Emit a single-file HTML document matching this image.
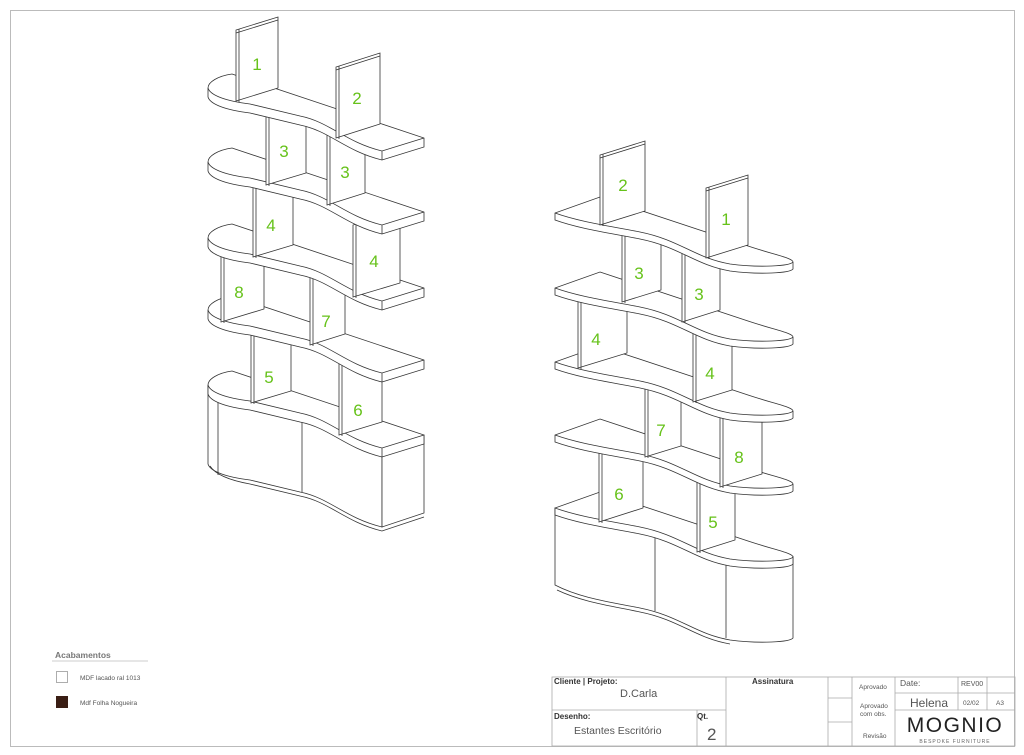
<!DOCTYPE html>
<html><head><meta charset="utf-8"><style>
html,body{margin:0;padding:0;background:#fff}
svg{display:block}
text{font-family:"Liberation Sans",sans-serif}
.n{fill:#66c21a;font-size:17px;text-anchor:middle}
</style></head><body>
<svg width="1024" height="755" viewBox="0 0 1024 755" xmlns="http://www.w3.org/2000/svg">
<defs>
<g id="shL">
<path fill="#fff" stroke="#333" stroke-width="0.8" d="M232,74 L424,138 L424,147 L382,160 C345,151 330,131 300,125 L250,113 C225,110 210,104 208,97 L208,88 C208,82 218,76 232,74 Z"/>
<path fill="none" stroke="#333" stroke-width="0.8" d="M208,88 C210,95 225,101 250,104 L300,116 C330,122 345,142 382,151 L424,138 M382,151 L382,160"/>
</g>
<g id="shR">
<path fill="#fff" stroke="#333" stroke-width="0.8" d="M600,197 L748,246 C775,255 793,258 793,262 L793,269 C790,273 760,275 730,271 C695,265 680,247 640,239 C610,233 580,229 555,220 L555,213 Z"/>
<path fill="none" stroke="#333" stroke-width="0.8" d="M555,213 C580,222 610,226 640,232 C680,240 695,258 730,264 C760,268 790,266 793,262"/>
</g>
</defs>
<rect x="10.5" y="10.5" width="1004" height="736" fill="none" stroke="#bbb" stroke-width="1"/>

<g stroke="#333" stroke-width="0.8" fill="#fff">
<!-- LEFT UNIT -->
<path d="M208,385 C210,392 225,398 250,401 L300,413 C330,419 345,439 382,448 L382,527 C345,518 330,498 300,492 L250,480 C225,477 210,471 208,464 Z"/>
<path d="M382,448 L424,435 L424,513 L382,527 Z"/>
<path fill="none" d="M302,422 L302,492 M218,397 L218,475 M210,466 C215,474 228,480 250,484 L300,496 C330,502 345,522 382,531 L424,517"/>
<use href="#shL" transform="translate(0,297)"/>
<polygon points="251,403 291,391 291,319 251,331"/><line x1="254" y1="404" x2="254" y2="330"/>
<polygon points="339,435 382,422 382,350 339,363"/><line x1="342" y1="436" x2="342" y2="362"/>
<use href="#shL" transform="translate(0,222)"/>
<polygon points="221,322 264,309 264,237 221,250"/><line x1="224" y1="323" x2="224" y2="249"/>
<polygon points="310,345 345,334 345,262 310,273"/><line x1="313" y1="346" x2="313" y2="272"/>
<use href="#shL" transform="translate(0,150)"/>
<polygon points="253,257 293,245 293,173 253,185"/><line x1="256" y1="258" x2="256" y2="184"/>
<polygon points="353,297 400,283 400,211 353,225"/><line x1="356" y1="298" x2="356" y2="224"/>
<use href="#shL" transform="translate(0,74)"/>
<polygon points="266,185 306,173 306,101 266,113"/><line x1="269" y1="186" x2="269" y2="112"/>
<polygon points="327,205 365,193 365,121 327,133"/><line x1="330" y1="206" x2="330" y2="132"/>
<use href="#shL"/>
<polygon points="236,101 278,88 278,17 236,30"/><line x1="239" y1="102" x2="239" y2="29"/><line x1="236" y1="33" x2="278" y2="20"/>
<polygon points="336,138 380,124 380,53 336,67"/><line x1="339" y1="139" x2="339" y2="66"/><line x1="336" y1="70" x2="380" y2="56"/>

<!-- RIGHT UNIT -->
<path d="M555,508 C580,517 610,521 640,527 C680,535 695,553 730,559 C760,563 790,561 793,557 L793,638 C790,642 760,644 730,640 C695,634 680,616 640,608 C610,602 580,598 555,585 Z"/>
<path fill="none" d="M655,531 L655,611 M726,558 L726,638 M557,590 C582,602 612,606 640,612 C680,620 695,638 730,644"/>
<use href="#shR" transform="translate(0,295)"/>
<polygon points="599,522 643,508 643,436 599,450"/><line x1="602" y1="523" x2="602" y2="449"/>
<polygon points="697,552 735,540 735,468 697,480"/><line x1="700" y1="553" x2="700" y2="479"/>
<use href="#shR" transform="translate(0,222)"/>
<polygon points="645,457 681,446 681,374 645,385"/><line x1="648" y1="458" x2="648" y2="384"/>
<polygon points="720,487 762,474 762,402 720,415"/><line x1="723" y1="488" x2="723" y2="414"/>
<use href="#shR" transform="translate(0,149)"/>
<polygon points="578,368 627,353 627,281 578,296"/><line x1="581" y1="369" x2="581" y2="295"/>
<polygon points="693,402 732,390 732,318 693,330"/><line x1="696" y1="403" x2="696" y2="329"/>
<use href="#shR" transform="translate(0,75)"/>
<polygon points="622,302 661,290 661,218 622,230"/><line x1="625" y1="303" x2="625" y2="229"/>
<polygon points="682,322 720,310 720,238 682,250"/><line x1="685" y1="323" x2="685" y2="249"/>
<use href="#shR"/>
<polygon points="600,225 645,211 645,141 600,155"/><line x1="603" y1="226" x2="603" y2="154"/><line x1="600" y1="158" x2="645" y2="144"/>
<polygon points="706,258 748,245 748,175 706,188"/><line x1="709" y1="259" x2="709" y2="187"/><line x1="706" y1="191" x2="748" y2="178"/>
</g>

<g class="n">
<text x="257" y="70" class="n">1</text><text x="357" y="104" class="n">2</text>
<text x="284" y="157" class="n">3</text><text x="345" y="178" class="n">3</text>
<text x="271" y="231" class="n">4</text><text x="374" y="267" class="n">4</text>
<text x="239" y="298" class="n">8</text><text x="326" y="327" class="n">7</text>
<text x="269" y="383" class="n">5</text><text x="358" y="416" class="n">6</text>
<text x="623" y="191" class="n">2</text><text x="726" y="225" class="n">1</text>
<text x="639" y="279" class="n">3</text><text x="699" y="300" class="n">3</text>
<text x="596" y="345" class="n">4</text><text x="710" y="379" class="n">4</text>
<text x="661" y="436" class="n">7</text><text x="739" y="463" class="n">8</text>
<text x="619" y="500" class="n">6</text><text x="713" y="528" class="n">5</text>
</g>

<text x="55" y="658" font-size="8.5" font-weight="bold" fill="#777">Acabamentos</text>
<line x1="52" y1="661" x2="148" y2="661" stroke="#bbb" stroke-width="0.8"/>
<rect x="56.5" y="671.5" width="11" height="11" fill="#fff" stroke="#999" stroke-width="0.8"/>
<text x="80" y="680" font-size="6.5" fill="#555">MDF lacado ral 1013</text>
<rect x="56" y="696" width="12" height="12" fill="#3a1e14"/>
<text x="80" y="705" font-size="6.5" fill="#555">Mdf Folha Nogueira</text>

<g stroke="#aaa" stroke-width="0.8" fill="none">
<rect x="552" y="677" width="463" height="69"/>
<line x1="552" y1="710" x2="726" y2="710"/>
<line x1="697" y1="710" x2="697" y2="746"/>
<line x1="726" y1="677" x2="726" y2="746"/>
<line x1="828" y1="677" x2="828" y2="746"/>
<line x1="852" y1="677" x2="852" y2="746"/>
<line x1="895" y1="677" x2="895" y2="746"/>
<line x1="828" y1="698" x2="852" y2="698"/>
<line x1="828" y1="722" x2="852" y2="722"/>
<line x1="895" y1="693" x2="1015" y2="693"/>
<line x1="895" y1="710" x2="1015" y2="710"/>
<line x1="958" y1="677" x2="958" y2="710"/>
<line x1="987" y1="677" x2="987" y2="710"/>
</g>
<g fill="#333">
<text x="554" y="684" font-size="8" font-weight="bold">Cliente | Projeto:</text>
<text x="620" y="697" font-size="11" fill="#555">D.Carla</text>
<text x="554" y="719" font-size="8" font-weight="bold">Desenho:</text>
<text x="574" y="734" font-size="10.5" fill="#555">Estantes Escritório</text>
<text x="697" y="719" font-size="8" font-weight="bold">Qt.</text>
<text x="707" y="740" font-size="17" fill="#555">2</text>
<text x="752" y="684" font-size="8" font-weight="bold">Assinatura</text>
<text x="859" y="689" font-size="6.5" fill="#555">Aprovado</text>
<text x="860" y="708" font-size="6.5" fill="#555">Aprovado</text>
<text x="860" y="716" font-size="6.5" fill="#555">com obs.</text>
<text x="863" y="738" font-size="6.5" fill="#555">Revisão</text>
<text x="900" y="686" font-size="8.5" fill="#555">Date:</text>
<text x="961" y="686" font-size="7" fill="#555">REV00</text>
<text x="910" y="707" font-size="12" fill="#555">Helena</text>
<text x="963" y="705" font-size="6.5" fill="#555">02/02</text>
<text x="996" y="705" font-size="6.5" fill="#555">A3</text>
<text x="955" y="732" font-size="21" text-anchor="middle" letter-spacing="1.5" fill="#222">MOGNIO</text>
<text x="955" y="743" font-size="5" text-anchor="middle" letter-spacing="1" fill="#666">BESPOKE FURNITURE</text>
</g>
</svg>
</body></html>
